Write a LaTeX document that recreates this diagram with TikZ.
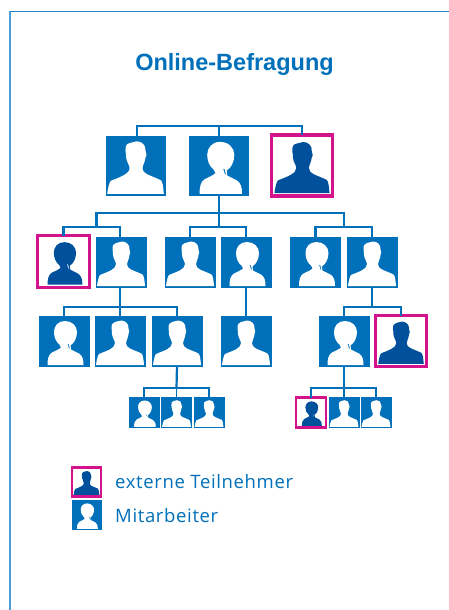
\documentclass[tikz,border=0pt]{standalone}
\usepackage{fontspec}
\setmainfont{Liberation Sans}
\newfontfamily\labfont[LetterSpace=3.5]{Open Sans}
\definecolor{ubl}{HTML}{0070BA}
\definecolor{udk}{HTML}{00509C}
\definecolor{umg}{HTML}{D3128C}
\definecolor{ufr}{HTML}{4A9FD8}
\tikzset{
  staffbox/.style={fill=ubl,draw=ubl,line width=0.6pt,outer sep=0pt,inner sep=0pt,minimum size=#1},
  extbox/.style={fill=white,draw=umg,outer sep=0pt,inner sep=0pt,minimum size=#1},
  link/.style={draw=ubl,line width=2.2pt,line cap=butt},
  thinlink/.style={draw=ubl,line width=1.8pt},
  framel/.style={draw=ufr,line width=1.8pt},
}
\newcommand{\malesil}{(.02,.98) -- (.98,.98) .. controls (.97,.86) and (.96,.78) .. (.93,.75) .. controls (.85,.71) and (.76,.68) .. (.70,.65) .. controls (.65,.62) and (.62,.60) .. (.62,.54) .. controls (.62,.50) and (.66,.45) .. (.67,.36) .. controls (.69,.35) and (.69,.28) .. (.67,.25) .. controls (.68,.15) and (.60,.09) .. (.52,.09) .. controls (.47,.09) and (.45,.12) .. (.40,.12) .. controls (.34,.13) and (.33,.18) .. (.33,.25) .. controls (.33,.29) and (.35,.32) .. (.34,.36) .. controls (.35,.44) and (.40,.50) .. (.40,.54) .. controls (.40,.60) and (.36,.63) .. (.31,.66) .. controls (.24,.70) and (.15,.73) .. (.08,.76) .. controls (.05,.80) and (.03,.90) .. (.02,.98) -- cycle}
\newcommand{\femalesil}{(.17,.98) -- (.89,.98) .. controls (.89,.86) and (.87,.80) .. (.80,.75) .. controls (.75,.72) and (.69,.70) .. (.64,.67) -- (.63,.585) .. controls (.70,.55) and (.76,.44) .. (.76,.32) .. controls (.76,.20) and (.66,.10) .. (.52,.10) .. controls (.38,.10) and (.30,.20) .. (.30,.32) .. controls (.30,.42) and (.34,.52) .. (.41,.57) -- (.44,.63) .. controls (.40,.67) and (.32,.70) .. (.26,.73) .. controls (.19,.77) and (.17,.86) .. (.17,.98) -- cycle (.57,.55) -- (.595,.56) -- (.62,.66) -- (.60,.65) -- cycle}
% name, cx, cy, size, silhouette
\newcommand{\staff}[5]{%
  \node[staffbox=#4pt] (#1) at (#2,#3) {};
  \begin{scope}[shift={(#2-#4/2,#3-#4/2)},x=#4pt,y=-#4pt]
    \fill[white,even odd rule] #5;
  \end{scope}}
% name, cx, cy, stroke-centre size, stroke, silhouette
\newcommand{\extern}[6]{%
  \node[extbox=#4pt,line width=#5pt] (#1) at (#2,#3) {};
  \begin{scope}[shift={(#2-#4/2+#5/2,#3-#4/2+#5/2)},x=#4pt-#5pt,y=-#4pt+#5pt]
    \fill[udk,even odd rule] #6;
  \end{scope}}
\begin{document}
\begin{tikzpicture}[x=1pt,y=-1pt]
\useasboundingbox (0,0) rectangle (449,610);
\fill[white] (0,0) rectangle (449,610);
\coordinate (fa) at (10,610);
\coordinate (fb) at (10,11.5);
\coordinate (fc) at (449,11.5);
\draw[framel] (fa) -- (fb);
\draw[draw=ubl!85!white,line width=1.5pt] (fb) -- (fc);
\node[anchor=base,text=ubl,font=\fontsize{23.5pt}{26pt}\selectfont\bfseries] (title) at (234.5,70.5) {Online-Befragung};

% row 1
\staff{a1}{135.5}{165.5}{59}{\malesil}
\staff{a2}{219}{165.5}{59}{\femalesil}
\extern{a3}{302}{165.5}{61}{3.6}{\malesil}
% row 2
\extern{b1}{63.5}{261.5}{52}{3.6}{\femalesil}
\staff{b2}{121}{262}{50}{\malesil}
\staff{b3}{190}{262}{50}{\malesil}
\staff{b4}{246}{262}{50}{\femalesil}
\staff{b5}{315.5}{262}{50}{\femalesil}
\staff{b6}{372}{262}{50}{\malesil}
% row 3
\staff{c1}{64}{341}{50}{\femalesil}
\staff{c2}{120}{341}{50}{\malesil}
\staff{c3}{177}{341}{50}{\malesil}
\staff{c4}{246}{341}{50}{\malesil}
\staff{c5}{344}{341}{50}{\femalesil}
\extern{c6}{401}{341}{51}{3.6}{\malesil}
% row 4
\staff{d1}{144}{412.5}{30}{\femalesil}
\staff{d2}{176.5}{412.5}{30}{\malesil}
\staff{d3}{209}{412.5}{30}{\malesil}
\extern{d4}{311}{412.5}{30}{2.2}{\femalesil}
\staff{d5}{344}{412.5}{30}{\malesil}
\staff{d6}{376}{412.5}{30}{\malesil}

% connectors
\coordinate (busA) at (219,126);
\draw[link] ([xshift=1.5pt]a1.north) |- (busA) -| (a3.north);
\draw[link] (a2.north) -- (busA);
\coordinate (busB) at (219,213);
\coordinate (g1) at (96.5,227);
\coordinate (g2) at (219,227);
\coordinate (g3) at (344,227);
\draw[link] (a2.south) -- (busB);
\draw[link] (g1) |- (busB) -| (g3);
\draw[link] (busB) -- (g2);
\draw[link] (b1.north) |- (g1) -| ([xshift=-1pt]b2.north);
\draw[link] (b3.north) |- (g2) -| (b4.north);
\draw[link] (b5.north) |- (g3) -| (b6.north);
\coordinate (g4) at (120,307);
\draw[link] ([xshift=-1pt]b2.south) -- (g4);
\draw[link] (c1.north) |- (g4) -| (c3.north);
\draw[link] (g4) -- (c2.north);
\draw[link] (b4.south) -- (c4.north);
\coordinate (g5) at (372,307);
\draw[link] (b6.south) -- (g5);
\draw[link] (c5.north) |- (g5) -| (c6.north);
\coordinate (g6) at (176.5,388);
\draw[link] (c3.south) -- (g6);
\draw[thinlink] (d1.north) |- (g6) -| (d3.north);
\draw[thinlink] (g6) -- (d2.north);
\coordinate (g7) at (344,388);
\draw[link] (c5.south) -- (g7);
\draw[thinlink] (d4.north) |- (g7) -| (d6.north);
\draw[thinlink] (g7) -- (d5.north);

% legend
\extern{l1}{86.5}{482}{29}{2.2}{\malesil}
\staff{l2}{86.5}{515}{29}{\femalesil}
\node[anchor=base west,inner sep=0pt,text=ubl,font=\labfont\fontsize{18.5pt}{20pt}\selectfont] (t1) at (115,488) {externe Teilnehmer};
\node[anchor=base west,inner sep=0pt,text=ubl,font=\labfont\fontsize{18.5pt}{20pt}\selectfont] (t2) at (115,522) {Mitarbeiter};
\end{tikzpicture}
\end{document}
